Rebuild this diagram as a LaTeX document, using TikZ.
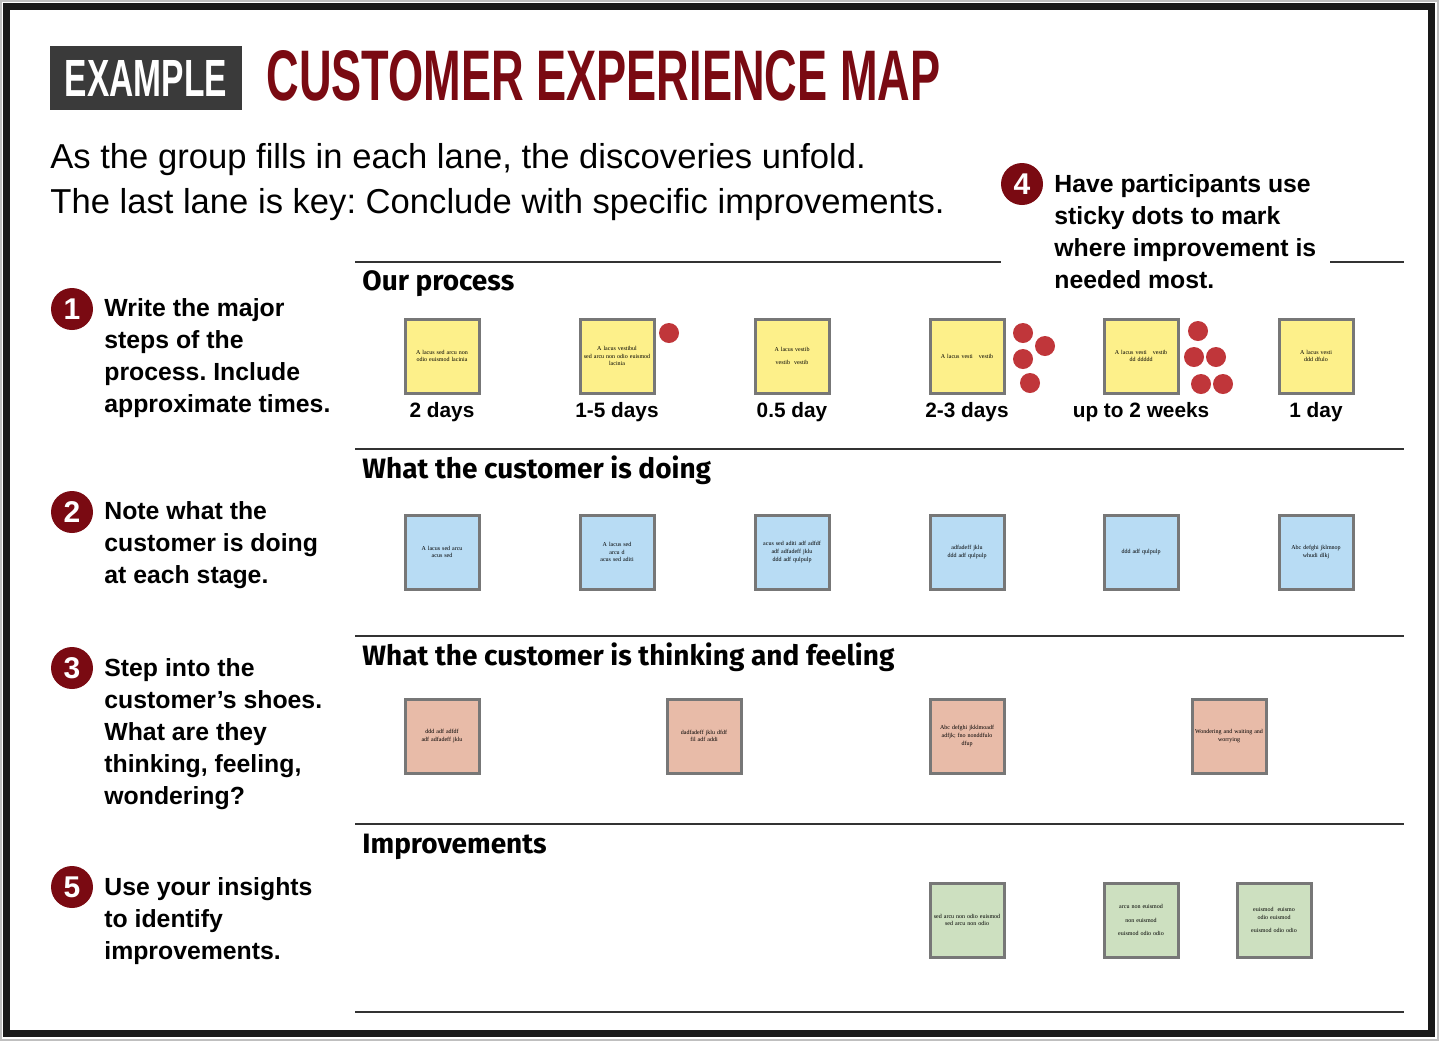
\documentclass[tikz,border=0pt]{standalone}
\usepackage{fontspec}
\setmainfont{Liberation Sans}
\newfontfamily\notefont{Liberation Serif}
\newfontfamily\lanefont{Fira Sans}
\frenchspacing
\definecolor{titlered}{HTML}{7A0A12}
\definecolor{exgray}{HTML}{3A3A3A}
\definecolor{dotred}{HTML}{C0363A}
\definecolor{notegray}{HTML}{777777}
\definecolor{noteyellow}{HTML}{FDF08A}
\definecolor{noteblue}{HTML}{B8DCF4}
\definecolor{notepink}{HTML}{E8BBA8}
\definecolor{notegreen}{HTML}{CDE0C0}
\definecolor{lanegray}{HTML}{333333}
\tikzset{
  stickynote/.style={draw=notegray, line width=1.5pt, minimum size=37pt, inner sep=1pt,
    text width=34pt, align=center, font=\notefont\fontsize{3}{3.8}\selectfont},
  yellownote/.style={stickynote, fill=noteyellow},
  bluenote/.style={stickynote, fill=noteblue},
  pinknote/.style={stickynote, fill=notepink},
  greennote/.style={stickynote, fill=notegreen},
  stickydot/.style={circle, fill=dotred, minimum size=10pt, inner sep=0pt},
  numcircle/.style={circle, fill=titlered, minimum size=21pt, inner sep=0pt, text=white,
    font=\bfseries\fontsize{15}{15}\selectfont},
  steptext/.style={anchor=north west, inner sep=0pt, align=left,
    font=\bfseries\fontsize{12.4}{16}\selectfont},
  lanelabel/.style={anchor=base west, inner sep=0pt, font=\lanefont\bfseries\fontsize{14}{16}\selectfont},
  lanerule/.style={draw=lanegray, line width=1pt},
  timelabel/.style={inner sep=0pt, font=\bfseries\fontsize{10.4}{12}\selectfont},
}
\begin{document}
\begin{tikzpicture}[x=0.5pt,y=-0.5pt]
\useasboundingbox (0,0) rectangle (1440,1046);
\fill[white] (0,0) rectangle (1440,1046);
\draw[gray!50, line width=0.6pt] (1,1) rectangle (1438,1040);
\draw[black!90, line width=3.5pt] (6,6) rectangle (1431,1033.5);

% title
\node[fill=exgray, minimum width=96pt, minimum height=32pt, inner sep=0pt] (ex) at (146,78)
  {\resizebox{81pt}{18pt}{\color{white}\bfseries EXAMPLE}};
\node[anchor=west, inner sep=0pt] (title) at (266,76)
  {\resizebox{337pt}{25pt}{\color{titlered}\bfseries CUSTOMER EXPERIENCE MAP}};

% subtitle
\node[anchor=north west, inner sep=0pt, align=left, font=\fontsize{17.3}{22.5}\selectfont] (sub) at (50,143)
  {As the group fills in each lane, the discoveries unfold.\\
   The last lane is key: Conclude with specific improvements.};

% lane rules
\coordinate (r0a) at (355,262); \coordinate (r0b) at (1001,262);
\coordinate (r0c) at (1330,262); \coordinate (r0d) at (1404,262);
\draw[lanerule] (r0a) -- (r0b);
\draw[lanerule] (r0c) -- (r0d);
\foreach \yy [count=\i] in {449,636,824,1012} {
  \coordinate (ra\i) at (355,\yy); \coordinate (rb\i) at (1404,\yy);
  \draw[lanerule] (ra\i) -- (rb\i);
}

% lane labels
\node[lanelabel] (l1) at (362,290) {Our process};
\node[lanelabel] (l2) at (362,478) {What the customer is doing};
\node[lanelabel] (l3) at (362,665) {What the customer is thinking and feeling};
\node[lanelabel] (l4) at (362,853) {Improvements};

% step texts
\node[numcircle] (c1) at (72,309) {1};
\node[steptext] (s1) at (104,298) {Write the major\\steps of the\\process. Include\\approximate times.};
\node[numcircle] (c2) at (72,512) {2};
\node[steptext] (s2) at (104,501) {Note what the\\customer is doing\\at each stage.};
\node[numcircle] (c3) at (72,668) {3};
\node[steptext] (s3) at (104,658) {Step into the\\customer’s shoes.\\What are they\\thinking, feeling,\\wondering?};
\node[numcircle] (c5) at (72,887) {5};
\node[steptext] (s5) at (104,877) {Use your insights\\to identify\\improvements.};
\node[numcircle] (c4) at (1022,184) {4};
\node[steptext] (s4) at (1054,174) {Have participants use\\sticky dots to mark\\where improvement is\\needed most.};

% row 1: process
\node[yellownote] (p1) at (442,356) {A lacus sed arcu non odio euismod lacinia};
\node[yellownote] (p2) at (617,356) {A lacus vestibul\\sed arcu non odio euismod\\lacinia};
\node[yellownote] (p3) at (792,356) {A lacus vestib\\[3pt]vestib\ \ vestib};
\node[yellownote] (p4) at (967,356) {A lacus vesti\quad vestib};
\node[yellownote] (p5) at (1141,356) {A lacus vesti\quad vestib\\dd ddddd};
\node[yellownote] (p6) at (1316,356) {A lacus vesti\\ddd dfulo};
\node[timelabel] (t1) at (442,412) {2 days};
\node[timelabel] (t2) at (617,412) {1-5 days};
\node[timelabel] (t3) at (792,412) {0.5 day};
\node[timelabel] (t4) at (967,412) {2-3 days};
\node[timelabel] (t5) at (1141,412) {up to 2 weeks};
\node[timelabel] (t6) at (1316,412) {1 day};

% dots
\node[stickydot] (d1) at (669,333) {};
\node[stickydot] (d2) at (1023,333) {};
\node[stickydot] (d3) at (1045,346) {};
\node[stickydot] (d4) at (1023,359) {};
\node[stickydot] (d5) at (1030,383) {};
\node[stickydot] (d6) at (1198,331) {};
\node[stickydot] (d7) at (1194,357) {};
\node[stickydot] (d8) at (1216,357) {};
\node[stickydot] (d9) at (1201,384) {};
\node[stickydot] (d10) at (1223,384) {};

% row 2: doing
\node[bluenote] (b1) at (442,552) {A lacus sed arcu\\acus sed\\[12pt]};
\node[bluenote] (b2) at (617,552) {A lacus sed\\arcu d\\acus sed aditi\\[9pt]};
\node[bluenote] (b3) at (792,552) {acus sed aditi adf adfdf\\adf adfadeff jklu\\ddd adf qulpulp\\[9pt]};
\node[bluenote] (b4) at (967,552) {adfadeff jklu\\ddd adf qulpulp\\[9pt]};
\node[bluenote] (b5) at (1141,552) {ddd adf qulpulp};
\node[bluenote] (b6) at (1316,552) {Abc defghi jklmnop\\whudi dlkj};

% row 3: thinking and feeling
\node[pinknote] (f1) at (442,736) {ddd adf adfdf\\adf adfadeff jklu\\[12pt]};
\node[pinknote] (f2) at (704,736) {dadfadeff jklu dfdf\\fil adf addi\\[12pt]};
\node[pinknote] (f3) at (967,736) {Abc defghi jkklmoadf\\adfjk; fno nonddfulo\\dfup\\[9pt]};
\node[pinknote] (f4) at (1229,736) {Wondering and waiting and\\worrying\\[12pt]};

% row 4: improvements
\node[greennote] (g1) at (967,920) {sed arcu non odio euismod\\sed arcu non odio};
\node[greennote] (g2) at (1141,920) {arcu non euismod\\[3pt]non euismod\\[3pt]euismod odio odio};
\node[greennote] (g3) at (1274,920) {euismod\ \ euismo\\odio euismod\\[3pt]euismod odio odio};
\end{tikzpicture}
\end{document}
